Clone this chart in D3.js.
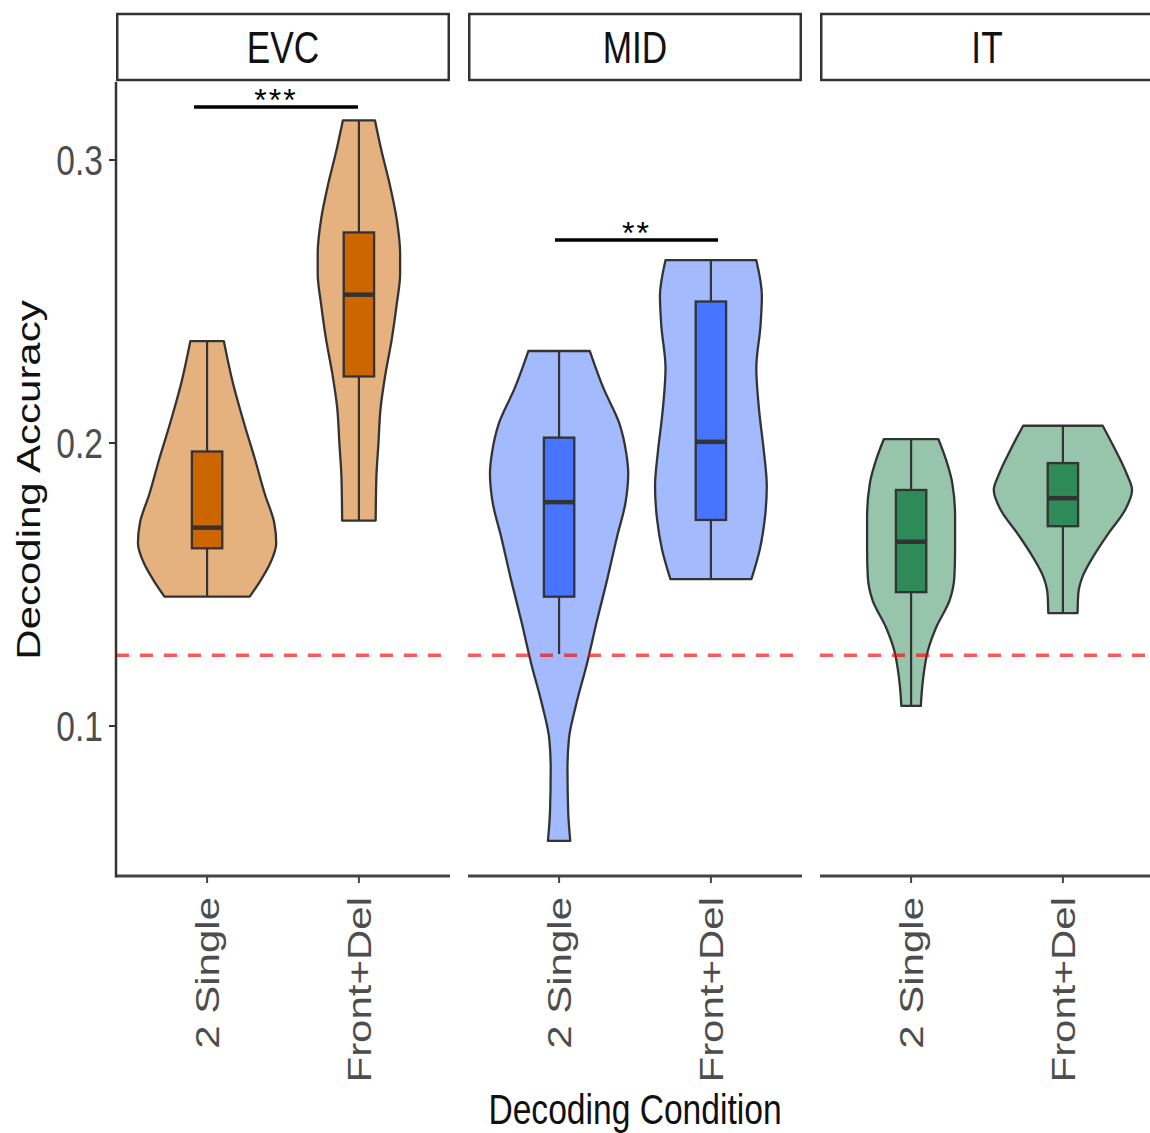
<!DOCTYPE html>
<html>
<head>
<meta charset="utf-8">
<script src="https://cdn.jsdelivr.net/npm/d3@7"></script>
<style>
  body { margin: 0; background: #fff; }
  svg { display: block; }
  text { font-family: "Liberation Sans", Arial, Helvetica, sans-serif; }
</style>
</head>
<body>
<svg id="chart" width="1150" height="1133"></svg>
<script>
// ---- data ----
const regions = ["EVC", "MID", "IT"];
const conditions = ["2 Single", "Front+Del"];
const yTicks = [0.1, 0.2, 0.3];
const chanceLevel = 0.125;

// violin outlines: [decoding accuracy, relative density]
const violinEVCSingle = [[0.2360,0.24],[0.2222,0.36],[0.2061,0.54],[0.1939,0.69],[0.1817,0.83],[0.1720,0.96],[0.1646,0.99],[0.1573,0.90],[0.1512,0.76],[0.1457,0.61]];
const violinEVCFront  = [[0.3140,0.23],[0.3036,0.32],[0.2915,0.44],[0.2793,0.54],[0.2671,0.59],[0.2598,0.59],[0.2488,0.54],[0.2366,0.47],[0.2244,0.38],[0.2122,0.31],[0.2000,0.28],[0.1878,0.25],[0.1726,0.24]];
const violinMIDSingle = [[0.2325,0.44],[0.2191,0.64],[0.2071,0.86],[0.1967,0.96],[0.1892,0.99],[0.1788,0.95],[0.1669,0.83],[0.1519,0.69],[0.1370,0.54],[0.1221,0.40],[0.1072,0.24],[0.0953,0.14],[0.0848,0.12],[0.0699,0.13],[0.0594,0.16]];
const violinMIDFront  = [[0.2646,0.65],[0.2519,0.73],[0.2414,0.71],[0.2265,0.65],[0.2116,0.69],[0.1967,0.76],[0.1848,0.80],[0.1728,0.77],[0.1624,0.70],[0.1519,0.58]];
const violinITSingle  = [[0.2014,0.39],[0.1941,0.50],[0.1858,0.59],[0.1740,0.63],[0.1621,0.63],[0.1527,0.62],[0.1443,0.55],[0.1349,0.36],[0.1266,0.24],[0.1183,0.18],[0.1112,0.15],[0.1071,0.14]];
const violinITFront   = [[0.2061,0.57],[0.1976,0.75],[0.1893,0.91],[0.1834,0.99],[0.1763,0.89],[0.1680,0.65],[0.1597,0.43],[0.1527,0.28],[0.1467,0.22],[0.1399,0.21]];

// box summaries: [lower whisker, Q1, median, Q3, upper whisker]
const boxEVCSingle = [0.1457, 0.1628, 0.1701, 0.1970, 0.2360];
const boxEVCFront  = [0.1726, 0.2235, 0.2524, 0.2744, 0.3140];
const boxMIDSingle = [0.1254, 0.1457, 0.1791, 0.2019, 0.2325];
const boxMIDFront  = [0.1519, 0.1728, 0.2004, 0.2500, 0.2646];
const boxITSingle  = [0.1071, 0.1473, 0.1651, 0.1834, 0.2014];
const boxITFront   = [0.1399, 0.1706, 0.1805, 0.1929, 0.2061];

// significance brackets: region, start / end (category units), height, label
const sigRegion = ["EVC", "MID"];
const sigStart  = [0.914, 0.973];
const sigEnd    = [1.994, 2.047];
const sigY      = [0.3187, 0.2717];
const sigLabel  = ["***", "**"];

// ---- styling ----
const regionColor = { EVC: "#cc6600", MID: "#4775ff", IT: "#2e8b57" };
const ink = "#333333";

const groups = [
  { region: "EVC", cond: "2 Single",  violin: violinEVCSingle, box: boxEVCSingle },
  { region: "EVC", cond: "Front+Del", violin: violinEVCFront,  box: boxEVCFront },
  { region: "MID", cond: "2 Single",  violin: violinMIDSingle, box: boxMIDSingle },
  { region: "MID", cond: "Front+Del", violin: violinMIDFront,  box: boxMIDFront },
  { region: "IT",  cond: "2 Single",  violin: violinITSingle,  box: boxITSingle },
  { region: "IT",  cond: "Front+Del", violin: violinITFront,   box: boxITFront }
];

// ---- layout ----
const svg = d3.select("#chart");
const panelTop = 83, panelBottom = 876;
const stripTop = 14, stripBottom = 80;

const facet = d3.scaleBand().domain(regions).range([116, 1154]).paddingInner(18 / 352).paddingOuter(0);
const pw = facet.bandwidth();
const x = d3.scalePoint().domain(conditions).range([0, pw]).padding(0.6);
const step = x.step();
const y = d3.scaleLinear().domain([0.047, 0.3272]).range([panelBottom, panelTop]);
const dens = d3.scaleLinear().domain([0, 1]).range([0, 0.46 * step]);
const catPos = d3.scaleLinear().domain([1, 2]).range([x(conditions[0]), x(conditions[1])]);

// strips
regions.forEach(r => {
  const g = svg.append("g").attr("transform", `translate(${facet(r)},0)`);
  g.append("rect")
    .attr("x", 1.25).attr("y", stripTop)
    .attr("width", pw - 2.5).attr("height", stripBottom - stripTop)
    .attr("fill", "#fff").attr("stroke", ink).attr("stroke-width", 2.5);
  g.append("text")
    .attr("transform", `translate(${pw / 2},${(stripTop + stripBottom) / 2}) scale(0.8,1)`)
    .attr("text-anchor", "middle").attr("dy", "0.36em")
    .attr("font-size", 44).attr("fill", "#111")
    .text(r);
});

// panels
regions.forEach(r => {
  const g = svg.append("g").attr("transform", `translate(${facet(r)},0)`);
  const col = regionColor[r];

  groups.filter(d => d.region === r).forEach(d => {
    const cx = x(d.cond);
    const area = d3.area()
      .y(p => y(p[0]))
      .x0(p => cx - dens(p[1]))
      .x1(p => cx + dens(p[1]))
      .curve(d3.curveMonotoneY);
    g.append("path")
      .attr("d", area(d.violin))
      .attr("fill", col).attr("fill-opacity", 0.5)
      .attr("stroke", ink).attr("stroke-width", 2.3).attr("stroke-linejoin", "round");

    const [lo, q1, med, q3, hi] = d.box;
    const bw = 0.1 * step;
    g.append("line")
      .attr("x1", cx).attr("x2", cx).attr("y1", y(lo)).attr("y2", y(hi))
      .attr("stroke", ink).attr("stroke-width", 2.2);
    g.append("rect")
      .attr("x", cx - bw).attr("width", 2 * bw)
      .attr("y", y(q3)).attr("height", y(q1) - y(q3))
      .attr("fill", col).attr("stroke", ink).attr("stroke-width", 2.3);
    g.append("line")
      .attr("x1", cx - bw).attr("x2", cx + bw).attr("y1", y(med)).attr("y2", y(med))
      .attr("stroke", ink).attr("stroke-width", 4.5);
  });

  // chance level
  g.append("line")
    .attr("x1", 0).attr("x2", pw).attr("y1", y(chanceLevel)).attr("y2", y(chanceLevel))
    .attr("stroke", "#ff0000").attr("stroke-opacity", 0.65)
    .attr("stroke-width", 3.5).attr("stroke-dasharray", "13,11");

  // bottom axis
  g.append("line")
    .attr("x1", 0).attr("x2", pw).attr("y1", panelBottom).attr("y2", panelBottom)
    .attr("stroke", "#444").attr("stroke-width", 3);
  conditions.forEach(c => {
    g.append("line")
      .attr("x1", x(c)).attr("x2", x(c)).attr("y1", panelBottom).attr("y2", panelBottom + 7)
      .attr("stroke", "#444").attr("stroke-width", 2);
    g.append("text")
      .attr("transform", `translate(${x(c)},${panelBottom + 21}) rotate(-90) scale(1,0.8)`)
      .attr("text-anchor", "end").attr("dy", "0.36em")
      .attr("font-size", 42).attr("fill", "#4d4d4d")
      .text(c);
  });

  // significance brackets
  sigRegion.forEach((sr, i) => {
    if (sr !== r) return;
    const x1 = catPos(sigStart[i]), x2 = catPos(sigEnd[i]);
    g.append("line")
      .attr("x1", x1).attr("x2", x2).attr("y1", y(sigY[i])).attr("y2", y(sigY[i]))
      .attr("stroke", "#000").attr("stroke-width", 3.5);
    g.append("text")
      .attr("x", (x1 + x2) / 2).attr("y", y(sigY[i]) + 4)
      .attr("text-anchor", "middle").attr("font-size", 32)
      .attr("letter-spacing", 2).attr("fill", "#000")
      .text(sigLabel[i]);
  });
});

// y axis
const x0 = facet(regions[0]);
svg.append("line")
  .attr("x1", x0).attr("x2", x0).attr("y1", panelTop - 1).attr("y2", panelBottom + 1.5)
  .attr("stroke", ink).attr("stroke-width", 2.5);
yTicks.forEach(t => {
  svg.append("line")
    .attr("x1", x0 - 7).attr("x2", x0).attr("y1", y(t)).attr("y2", y(t))
    .attr("stroke", ink).attr("stroke-width", 2);
  svg.append("text")
    .attr("transform", `translate(${x0 - 13},${y(t)}) scale(0.8,1)`)
    .attr("text-anchor", "end").attr("dy", "0.36em")
    .attr("font-size", 42).attr("fill", "#4d4d4d")
    .text(d3.format(".1f")(t));
});

// axis titles
svg.append("text")
  .attr("transform", `translate(${(facet("MID") + pw / 2)},1124) scale(0.8,1)`)
  .attr("text-anchor", "middle").attr("font-size", 42).attr("fill", "#111")
  .text("Decoding Condition");
svg.append("text")
  .attr("transform", `translate(40,480) rotate(-90) scale(1,0.8)`)
  .attr("text-anchor", "middle").attr("font-size", 42).attr("fill", "#111")
  .text("Decoding Accuracy");
</script>
</body>
</html>
